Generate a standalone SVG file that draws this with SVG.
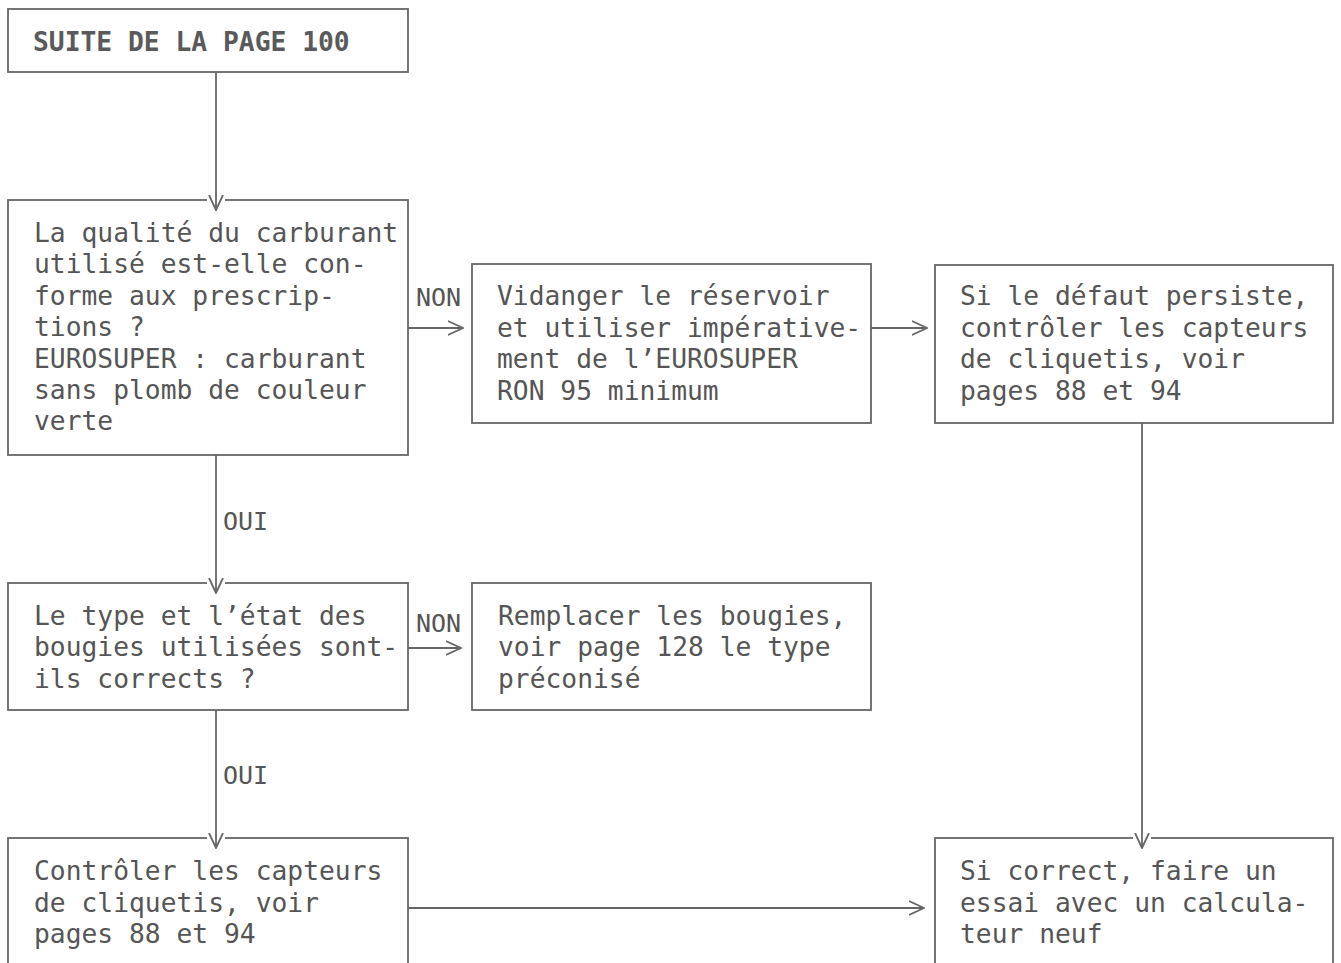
<svg xmlns="http://www.w3.org/2000/svg" width="1341" height="963" viewBox="0 0 1341 963">
<style>
.box{fill:#fff;stroke:#666;stroke-width:1.8}
.t{font-family:"DejaVu Sans Mono","Liberation Mono",monospace;font-size:26.3px;fill:#555}
.b{font-weight:bold;fill:#5a5a5a}
.lbl{font-family:"DejaVu Sans Mono","Liberation Mono",monospace;font-size:25px;fill:#555}
.c{fill:none;stroke:#666;stroke-width:1.8}
.gap{fill:#fff;stroke:none}
</style>
<defs>
<marker id="chev" viewBox="0 0 16 16" refX="15" refY="8" markerWidth="16" markerHeight="16" markerUnits="userSpaceOnUse" orient="auto">
<path d="M0,1 L15,8 L0,15" fill="none" stroke="#666" stroke-width="1.8"/>
</marker>
</defs>
<rect width="1341" height="963" fill="#fff"/>

<g id="n1"><rect class="box" x="8" y="9" width="400" height="63"/><text class="t b" x="33" y="51">SUITE DE LA PAGE 100</text></g>

<g id="n2"><rect class="box" x="8" y="200" width="400" height="255"/>
<text class="t" x="34" y="242">La qualité du carburant</text>
<text class="t" x="34" y="273">utilisé est-elle con-</text>
<text class="t" x="34" y="305">forme aux prescrip-</text>
<text class="t" x="34" y="336">tions ?</text>
<text class="t" x="34" y="368">EUROSUPER : carburant</text>
<text class="t" x="34" y="399">sans plomb de couleur</text>
<text class="t" x="34" y="430">verte</text></g>

<g id="n3"><rect class="box" x="472" y="264" width="399" height="159"/>
<text class="t" x="497" y="305">Vidanger le réservoir</text>
<text class="t" x="497" y="337">et utiliser impérative-</text>
<text class="t" x="497" y="368">ment de l’EUROSUPER</text>
<text class="t" x="497" y="400">RON 95 minimum</text></g>

<g id="n4"><rect class="box" x="935" y="265" width="398" height="158"/>
<text class="t" x="960" y="305">Si le défaut persiste,</text>
<text class="t" x="960" y="337">contrôler les capteurs</text>
<text class="t" x="960" y="368">de cliquetis, voir</text>
<text class="t" x="960" y="400">pages 88 et 94</text></g>

<g id="n5"><rect class="box" x="8" y="583" width="400" height="127"/>
<text class="t" x="34" y="625">Le type et l’état des</text>
<text class="t" x="34" y="656">bougies utilisées sont-</text>
<text class="t" x="34" y="688">ils corrects ?</text></g>

<g id="n6"><rect class="box" x="472" y="583" width="399" height="127"/>
<text class="t" x="498" y="625">Remplacer les bougies,</text>
<text class="t" x="498" y="656">voir page 128 le type</text>
<text class="t" x="498" y="688">préconisé</text></g>

<g id="n7"><rect class="box" x="8" y="838" width="400" height="140"/>
<text class="t" x="34" y="880">Contrôler les capteurs</text>
<text class="t" x="34" y="912">de cliquetis, voir</text>
<text class="t" x="34" y="943">pages 88 et 94</text></g>

<g id="n8"><rect class="box" x="935" y="838" width="398" height="140"/>
<text class="t" x="960" y="880">Si correct, faire un</text>
<text class="t" x="960" y="912">essai avec un calcula-</text>
<text class="t" x="960" y="943">teur neuf</text></g>

<g id="connectors">
<rect class="gap" x="207" y="196" width="18" height="8"/>
<rect class="gap" x="207" y="579" width="18" height="8"/>
<rect class="gap" x="207" y="834" width="18" height="8"/>
<rect class="gap" x="1133" y="834" width="18" height="8"/>
<line class="c" x1="216" y1="72" x2="216" y2="210" marker-end="url(#chev)"/>
<line class="c" x1="216" y1="455" x2="216" y2="593" marker-end="url(#chev)"/>
<line class="c" x1="216" y1="710" x2="216" y2="848" marker-end="url(#chev)"/>
<line class="c" x1="1142" y1="423" x2="1142" y2="848" marker-end="url(#chev)"/>
<line class="c" x1="408" y1="328" x2="463" y2="328" marker-end="url(#chev)"/>
<line class="c" x1="871" y1="328" x2="927" y2="328" marker-end="url(#chev)"/>
<line class="c" x1="408" y1="648" x2="461" y2="648" marker-end="url(#chev)"/>
<line class="c" x1="408" y1="908" x2="924" y2="908" marker-end="url(#chev)"/>
<text class="lbl" x="416" y="306">NON</text>
<text class="lbl" x="416" y="632">NON</text>
<text class="lbl" x="223" y="530">OUI</text>
<text class="lbl" x="223" y="784">OUI</text>
</g>
</svg>
